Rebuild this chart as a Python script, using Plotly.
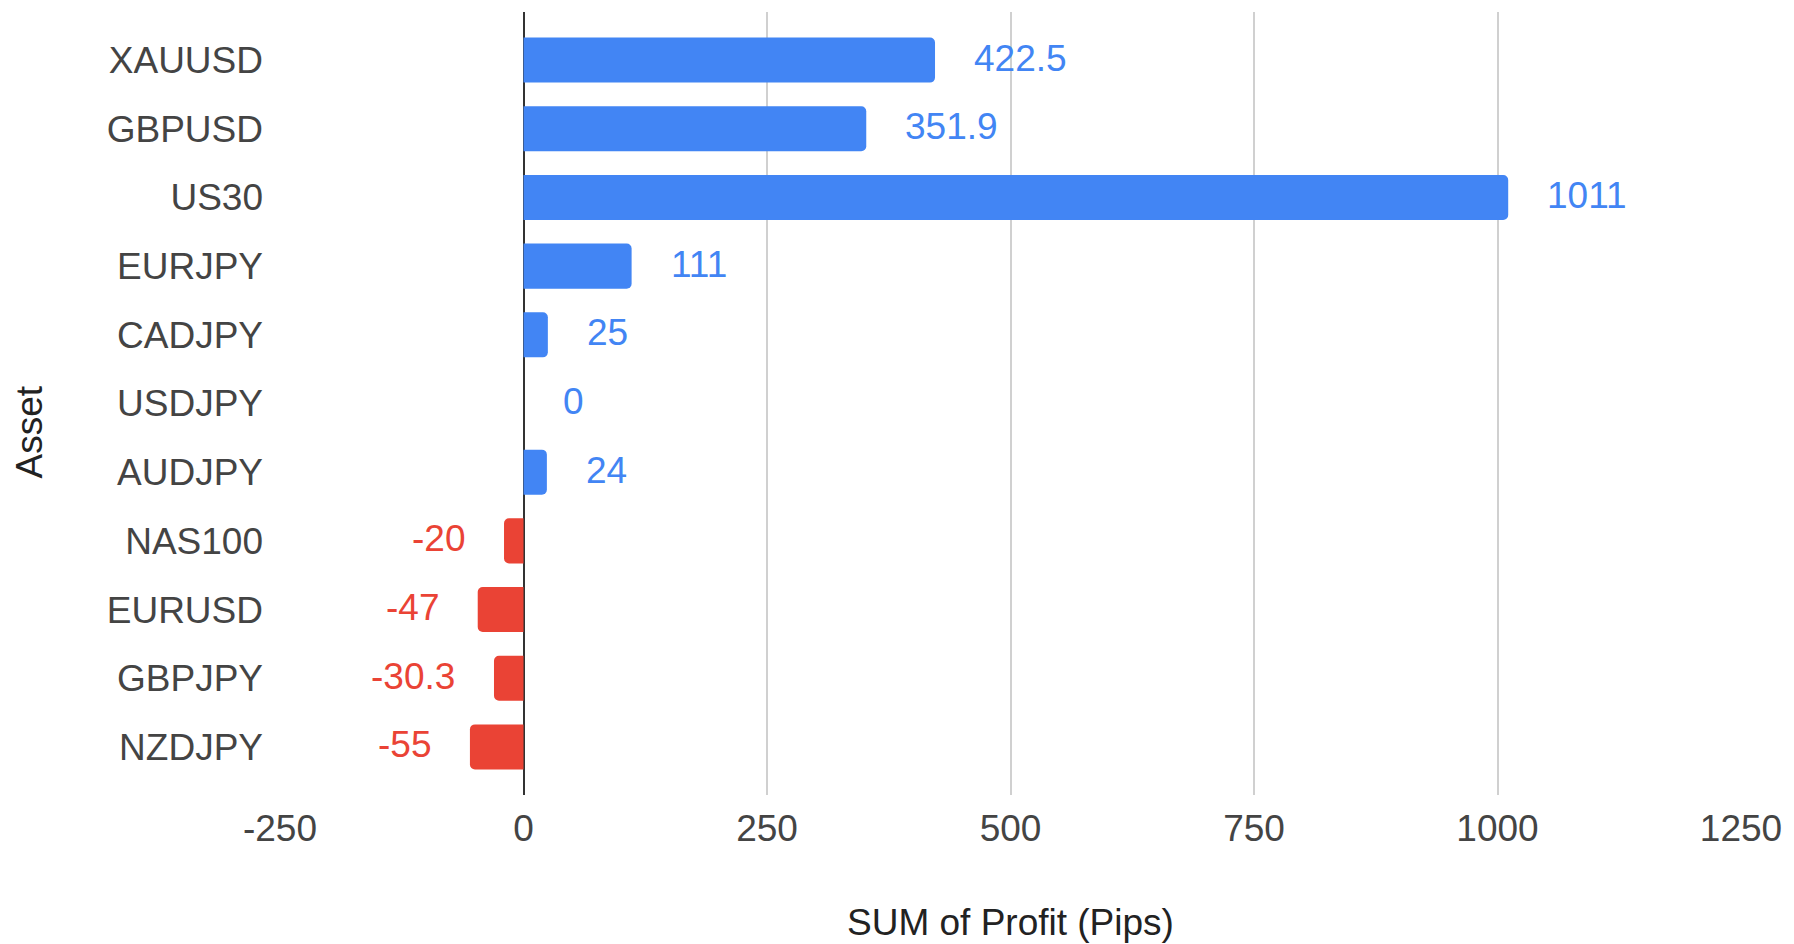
import plotly.graph_objects as go

assets = ["XAUUSD", "GBPUSD", "US30", "EURJPY", "CADJPY", "USDJPY",
          "AUDJPY", "NAS100", "EURUSD", "GBPJPY", "NZDJPY"]
profit = [422.5, 351.9, 1011, 111, 25, 0, 24, -20, -47, -30.3, -55]
labels = ["422.5", "351.9", "1011", "111", "25", "0", "24", "-20", "-47", "-30.3", "-55"]
x_ticks = [-250, 0, 250, 500, 750, 1000, 1250]

BLUE = "#4285F4"
RED = "#EA4335"
colors = [BLUE if v >= 0 else RED for v in profit]

FONT = "Liberation Sans, Arial, sans-serif"
FS = 37

fig = go.Figure()
fig.add_trace(go.Bar(
    y=assets, x=profit, orientation="h",
    marker=dict(color=colors, line=dict(width=0)),
    hoverinfo="x+y",
))

for a, v, t, c in zip(assets, profit, labels, colors):
    fig.add_annotation(
        x=v, y=a, text=t, showarrow=False,
        xanchor="left" if v >= 0 else "right",
        xshift=37 if v >= 0 else -37,
        yshift=2,
        font=dict(family=FONT, size=FS, color=c),
    )

fig.add_annotation(
    xref="paper", yref="paper", x=0, y=0.5, text="Asset", showarrow=False,
    textangle=-90, xanchor="center", yanchor="middle", xshift=-251, yshift=-29,
    font=dict(family=FONT, size=FS, color="#222222"),
)
fig.add_annotation(
    xref="paper", yref="paper", x=0.5, y=0, text="SUM of Profit (Pips)", showarrow=False,
    xanchor="center", yanchor="middle", yshift=-127,
    font=dict(family=FONT, size=FS, color="#222222"),
)

fig.update_layout(
    width=1786, height=936,
    margin=dict(l=272, r=53, t=4, b=149, autoexpand=False),
    paper_bgcolor="white", plot_bgcolor="white",
    showlegend=False,
    bargap=0.344,
    barcornerradius=5,
    font=dict(family=FONT, size=FS, color="#444444"),
    xaxis=dict(
        range=[-250, 1250], tickmode="array", tickvals=x_ticks,
        ticktext=[str(v) for v in x_ticks],
        showgrid=True, gridcolor="#d0d0d0", gridwidth=2,
        zeroline=True, zerolinecolor="#333333", zerolinewidth=2,
        showline=False, ticks="", ticklabelstandoff=8,
        tickfont=dict(family=FONT, size=FS, color="#444444"),
        automargin=False,
    ),
    yaxis=dict(
        categoryorder="array", categoryarray=assets,
        range=[10.7, -0.7], showgrid=False, zeroline=False,
        showline=False, ticks="", ticklabelstandoff=16,
        tickfont=dict(family=FONT, size=FS, color="#444444"),
        automargin=False,
    ),
)

fig.write_html("out.html")
